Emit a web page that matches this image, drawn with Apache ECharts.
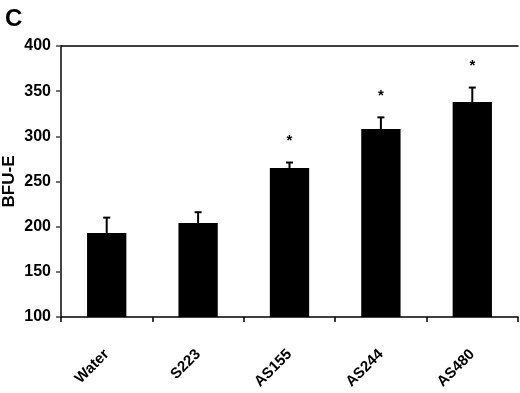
<!DOCTYPE html>
<html>
<head>
<meta charset="utf-8">
<script src="https://cdn.jsdelivr.net/npm/echarts@6/dist/echarts.min.js"></script>
<style>
  html, body { margin: 0; padding: 0; background: #fff; }
  #chart { width: 520px; height: 393px; }
</style>
</head>
<body>
<div id="chart"></div>
<script>
  // groups and BFU-E counts
  var categories = ['Water', 'S223', 'AS155', 'AS244', 'AS480'];
  var means = [193, 204, 265, 308, 338];
  var errTops = [210, 216, 271, 321, 354];
  var significant = [false, false, true, true, true];
  var yTicks = [100, 150, 200, 250, 300, 350, 400];

  var font = 'Liberation Sans, Arial, sans-serif';
  var chart = echarts.init(document.getElementById('chart'));

  var option = {
    backgroundColor: '#fff',
    animation: false,
    title: {
      text: 'C',
      left: 0,
      top: 2,
      textStyle: { fontFamily: font, fontSize: 24, fontWeight: 'bold', color: '#000' }
    },
    grid: { left: 61, right: 2, top: 46, bottom: 76, containLabel: false, outerBoundsMode: 'none' },
    xAxis: [{
      type: 'category',
      data: categories,
      axisLine: { lineStyle: { color: '#000', width: 1.5 } },
      axisTick: { show: true, length: 5, lineStyle: { color: '#000', width: 1.5 } },
      axisLabel: {
        rotate: 45,
        margin: 35,
        fontFamily: font,
        fontSize: 15,
        fontWeight: 'bold',
        color: '#000'
      }
    }, {
      type: 'category',
      position: 'top',
      data: categories,
      axisLine: { lineStyle: { color: '#000', width: 1.5 } },
      axisTick: { show: false },
      axisLabel: { show: false }
    }],
    yAxis: {
      type: 'value',
      min: yTicks[0],
      max: yTicks[yTicks.length - 1],
      interval: 50,
      name: 'BFU-E',
      nameLocation: 'middle',
      nameGap: 43,
      nameMoveOverlap: false,
      nameTextStyle: { fontFamily: font, fontSize: 17, fontWeight: 'bold', color: '#000' },
      axisLine: { show: true, lineStyle: { color: '#444', width: 2 } },
      axisTick: { show: true, inside: false, length: 5, lineStyle: { color: '#444', width: 1.5 } },
      axisLabel: { margin: 10, fontFamily: font, fontSize: 16, fontWeight: 'bold', color: '#000' },
      splitLine: { show: false }
    },
    series: [{
      name: 'BFU-E',
      type: 'bar',
      data: means,
      barWidth: '43%',
      itemStyle: { color: '#000' }
    }, {
      type: 'custom',
      data: categories.map(function (c, i) { return [i, means[i], errTops[i]]; }),
      z: 5,
      renderItem: function (params, api) {
        var base = api.coord([api.value(0), api.value(1)]);
        var top = api.coord([api.value(0), api.value(2)]);
        var kids = [{
          type: 'line',
          shape: { x1: base[0], y1: base[1], x2: top[0], y2: top[1] },
          style: { stroke: '#000', lineWidth: 2 }
        }, {
          type: 'line',
          shape: { x1: top[0] - 3.5, y1: top[1], x2: top[0] + 3.5, y2: top[1] },
          style: { stroke: '#000', lineWidth: 2 }
        }];
        if (significant[params.dataIndex]) {
          kids.push({
            type: 'text',
            x: top[0],
            y: top[1] - 22,
            style: {
              text: '*',
              fontFamily: font,
              fontSize: 15,
              fontWeight: 'bold',
              fill: '#000',
              align: 'center',
              verticalAlign: 'middle'
            }
          });
        }
        return { type: 'group', children: kids };
      }
    }]
  };

  chart.setOption(option);
</script>
</body>
</html>
